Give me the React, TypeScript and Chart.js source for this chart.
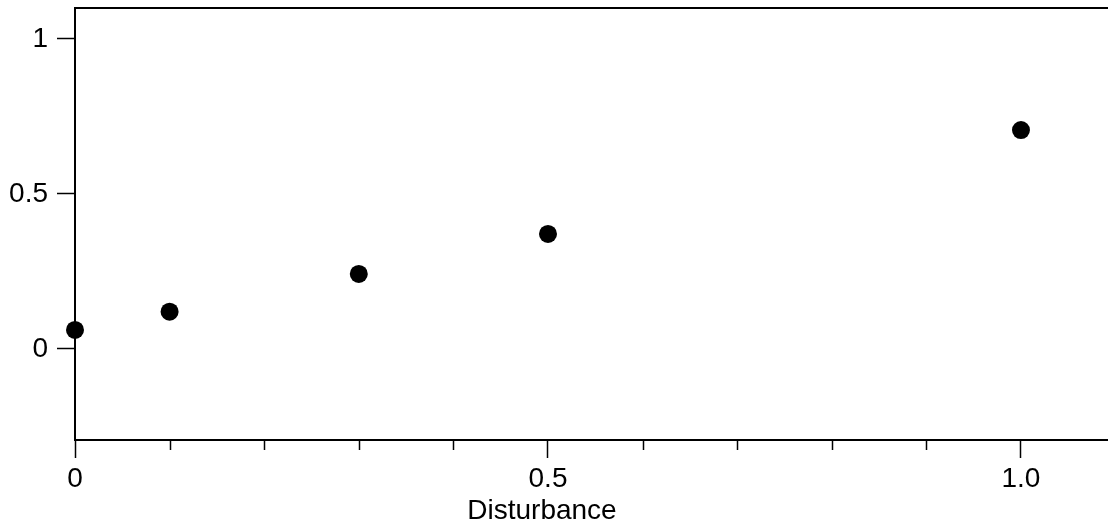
import { useEffect, useRef } from 'react';
import { Chart, registerables } from 'chart.js';

Chart.register(...registerables);

const DISTURBANCE = [0, 0.1, 0.3, 0.5, 1.0];
const RESPONSE = [0.061, 0.12, 0.242, 0.371, 0.706];
const X_TICKS = [0, 0.1, 0.2, 0.3, 0.4, 0.5, 0.6, 0.7, 0.8, 0.9, 1.0];
const X_MAJOR = [0, 0.5, 1.0];
const X_MAJOR_LABELS = ['0', '0.5', '1.0'];
const Y_TICKS = [0, 0.5, 1];
const Y_TICK_LABELS = ['0', '0.5', '1'];
const X_MIN = 0;
const X_MAX = 1.092;
const Y_MIN = -0.294;
const Y_MAX = 1.1;
const X_TITLE = 'Disturbance';

const FONT_FAMILY = '"Liberation Sans", Arial, Helvetica, sans-serif';

const isMajor = (v: number) => X_MAJOR.some((m) => Math.abs(m - v) < 1e-9);

const axisDecor = {
  id: 'axisDecor',
  afterDraw(chart: any) {
    const { ctx, chartArea } = chart;
    const xs = chart.scales.x;
    ctx.save();
    ctx.strokeStyle = '#000';
    ctx.lineWidth = 2;
    ctx.beginPath();
    ctx.moveTo(chartArea.left - 1, chartArea.top);
    ctx.lineTo(chart.width, chartArea.top);
    ctx.stroke();
    ctx.lineWidth = 1.5;
    xs.ticks.forEach((t: any) => {
      if (!isMajor(t.value)) {
        const px = Math.round(xs.getPixelForValue(t.value)) + 0.5;
        ctx.beginPath();
        ctx.moveTo(px, chartArea.bottom);
        ctx.lineTo(px, chartArea.bottom + 10);
        ctx.stroke();
      }
    });
    ctx.fillStyle = '#000';
    ctx.font = `28px ${FONT_FAMILY}`;
    ctx.textAlign = 'center';
    ctx.textBaseline = 'alphabetic';
    const cx =
      (xs.getPixelForValue(X_MAJOR[0]) + xs.getPixelForValue(X_MAJOR[X_MAJOR.length - 1])) / 2 - 6;
    ctx.fillText(X_TITLE, cx, xs.bottom - 5);
    ctx.restore();
  },
};

export default function App() {
  const canvasRef = useRef<HTMLCanvasElement | null>(null);

  useEffect(() => {
    if (!canvasRef.current) return;
    const chart = new Chart(canvasRef.current, {
      type: 'scatter',
      data: {
        datasets: [
          {
            data: DISTURBANCE.map((x, i) => ({ x, y: RESPONSE[i] })),
            backgroundColor: '#000',
            borderColor: '#000',
            pointRadius: 9,
            pointHoverRadius: 9,
            borderWidth: 0,
            clip: false as any,
          },
        ],
      },
      options: {
        animation: false,
        responsive: false,
        devicePixelRatio: 1,
        layout: { autoPadding: false, padding: { top: 8, left: 0, right: 0, bottom: 0 } },
        plugins: {
          legend: { display: false },
          tooltip: { enabled: false },
          title: { display: false },
        },
        scales: {
          x: {
            type: 'linear',
            min: X_MIN,
            max: X_MAX,
            afterBuildTicks: (scale: any) => {
              scale.ticks = X_TICKS.map((v) => ({ value: v }));
            },
            afterFit: (scale: any) => {
              scale.height = 84;
              scale.paddingLeft = 0;
              scale.paddingRight = 0;
            },
            ticks: {
              autoSkip: false,
              maxRotation: 0,
              padding: 4,
              color: '#000',
              font: { family: FONT_FAMILY, size: 28 },
              callback: (value: any) => {
                const idx = X_MAJOR.findIndex((m) => Math.abs(m - Number(value)) < 1e-9);
                return idx >= 0 ? X_MAJOR_LABELS[idx] : '';
              },
            },
            grid: {
              drawOnChartArea: false,
              drawTicks: true,
              tickLength: 18,
              tickWidth: 1.5,
              tickColor: (c: any) => (c.tick && isMajor(c.tick.value) ? '#000' : 'rgba(0,0,0,0)'),
            },
            border: { display: true, color: '#000', width: 2 },
          },
          y: {
            type: 'linear',
            min: Y_MIN,
            max: Y_MAX,
            afterBuildTicks: (scale: any) => {
              scale.ticks = Y_TICKS.map((v) => ({ value: v }));
            },
            afterFit: (scale: any) => {
              scale.width = 75;
              scale.paddingTop = 0;
              scale.paddingBottom = 0;
            },
            ticks: {
              autoSkip: false,
              padding: 9,
              color: '#000',
              font: { family: FONT_FAMILY, size: 28 },
              callback: (value: any) => {
                const idx = Y_TICKS.findIndex((m) => Math.abs(m - Number(value)) < 1e-9);
                return idx >= 0 ? Y_TICK_LABELS[idx] : '';
              },
            },
            grid: {
              drawOnChartArea: false,
              drawTicks: true,
              tickLength: 18,
              tickWidth: 1.5,
              tickColor: '#000',
            },
            border: { display: true, color: '#000', width: 2 },
          },
        },
      },
      plugins: [axisDecor],
    });
    return () => chart.destroy();
  }, []);

  return (
    <div style={{ position: 'fixed', left: 0, top: 0, width: 1108, height: 524, background: '#fff' }}>
      <canvas ref={canvasRef} width={1108} height={524} style={{ display: 'block', width: 1108, height: 524 }} />
    </div>
  );
}
